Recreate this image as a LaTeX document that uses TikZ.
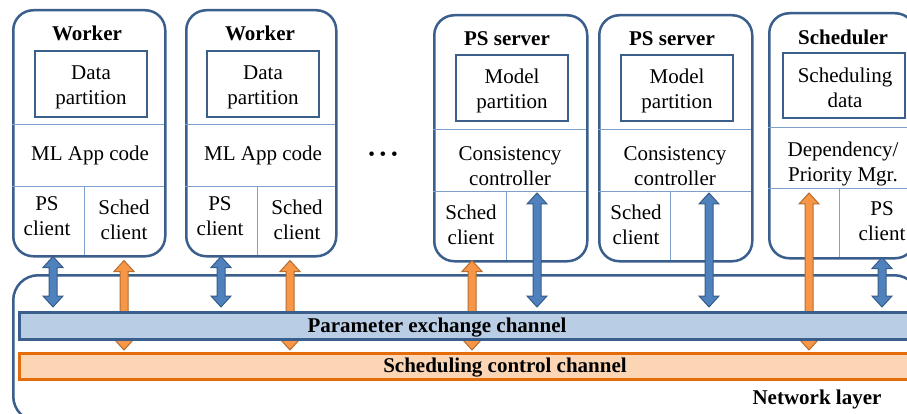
\documentclass[tikz,border=0pt]{standalone}
\usepackage{fontspec}
\setmainfont{Liberation Serif}
\usetikzlibrary{calc}
\definecolor{boxblue}{RGB}{58,95,140}
\definecolor{divblue}{RGB}{125,160,205}
\definecolor{chblue}{RGB}{185,205,229}
\definecolor{chorange}{RGB}{252,213,181}
\definecolor{orangeline}{RGB}{228,108,10}
\definecolor{arrblue}{RGB}{79,129,189}
\definecolor{arrblueline}{RGB}{56,93,138}
\definecolor{arrorange}{RGB}{247,150,70}
\definecolor{arrorangeline}{RGB}{182,109,49}
\pgfdeclarelayer{back}
\pgfdeclarelayer{mid}
\pgfsetlayers{back,mid,main}
% block double arrow: #1 style, #2 x coordinate, #3 top tip, #4 bottom tip
\newcommand\blockarr[4]{%
  \path[#1] let \p1=#2, \p2=#3, \p3=#4 in
   (\x1,\y2) -- (\x1+10pt,\y2-11pt) -- (\x1+4pt,\y2-11pt) -- (\x1+4pt,\y3+11pt)
   -- (\x1+10pt,\y3+11pt) -- (\x1,\y3) -- (\x1-10pt,\y3+11pt) -- (\x1-4pt,\y3+11pt)
   -- (\x1-4pt,\y2-11pt) -- (\x1-10pt,\y2-11pt) -- cycle;
}
\tikzset{
  comp/.style={draw=boxblue, line width=2.5pt, rounded corners=20pt, inner sep=0pt, fill=white},
  inbox/.style={draw=boxblue, line width=2.2pt, inner sep=0pt},
  divider/.style={draw=divblue, line width=1pt},
  txt/.style={align=center, inner sep=0pt, font=\fontsize{21}{25}\selectfont},
  ttl/.style={align=center, inner sep=0pt, font=\fontsize{21}{25}\selectfont\bfseries},
  pchan/.style={draw=boxblue, line width=2.5pt, fill=chblue, inner sep=0pt},
  schan/.style={draw=orangeline, line width=2.5pt, fill=chorange, inner sep=0pt},
  barrow/.style={fill=arrblue, draw=arrblueline, line width=1pt, line join=miter},
  oarrow/.style={fill=arrorange, draw=arrorangeline, line width=1pt, line join=miter},
}
\begin{document}
\begin{tikzpicture}[x=1pt,y=-1pt]
\clip (0,0) rectangle (907,414);

\begin{pgfonlayer}{back}
% network layer
\node[comp, rounded corners=25pt, minimum width=906pt, minimum height=146pt, anchor=north west] (net) at (12,274) {};
% component boxes
\node[comp, minimum width=152pt, minimum height=246pt, anchor=north west] (w1) at (12,9) {};
\node[comp, minimum width=150pt, minimum height=246pt, anchor=north west] (w2) at (185,9) {};
\node[comp, minimum width=153pt, minimum height=246pt, anchor=north west] (ps1) at (433,14) {};
\node[comp, minimum width=153pt, minimum height=246pt, anchor=north west] (ps2) at (598,14) {};
\node[comp, minimum width=146pt, minimum height=245pt, anchor=north west] (sch) at (768,12) {};
% dividers
\draw[divider] (12,125) -- (164,125) (12,187) -- (164,187) (84,187) -- (84,255);
\draw[divider] (185,125) -- (335,125) (185,187) -- (335,187) (257,187) -- (257,255);
\draw[divider] (433,130) -- (586,130) (433,192) -- (586,192) (506,192) -- (506,260);
\draw[divider] (598,130) -- (751,130) (598,192) -- (751,192) (670,192) -- (670,260);
\draw[divider] (768,128) -- (914,128) (768,189) -- (914,189) (839,189) -- (839,257);
\end{pgfonlayer}

% worker 1
\node[ttl] (w1t) at (87,33) {Worker};
\node[inbox, minimum width=112pt, minimum height=66pt] (w1d) at (91,84) {};
\node[txt] (w1dt) at (91,87) {Data\\partition};
\node[txt] (w1m) at (90,155) {ML App code};
\node[txt] (w1p) at (47,216) {PS\\client};
\node[txt] (w1s) at (124,220) {Sched\\client};
% worker 2
\node[ttl] (w2t) at (260,33) {Worker};
\node[inbox, minimum width=112pt, minimum height=66pt] (w2d) at (263,84) {};
\node[txt] (w2dt) at (263,87) {Data\\partition};
\node[txt] (w2m) at (263,155) {ML App code};
\node[txt] (w2p) at (220,216) {PS\\client};
\node[txt] (w2s) at (297,220) {Sched\\client};
% dots
\node[anchor=base, inner sep=0pt, font=\fontsize{19}{20}\selectfont] (dots) at (383,161) {• • •};
% PS server 1
\node[ttl] (p1t) at (507,39) {PS server};
\node[inbox, minimum width=112pt, minimum height=66pt] (p1d) at (512,88) {};
\node[txt] (p1dt) at (512,91) {Model\\partition};
\node[txt] (p1c) at (510,166) {Consistency\\controller};
\node[txt] (p1s) at (471,225) {Sched\\client};
% PS server 2
\node[ttl] (p2t) at (672,39) {PS server};
\node[inbox, minimum width=112pt, minimum height=66pt] (p2d) at (677,88) {};
\node[txt] (p2dt) at (677,91) {Model\\partition};
\node[txt] (p2c) at (675,166) {Consistency\\controller};
\node[txt] (p2s) at (636,225) {Sched\\client};
% scheduler
\node[ttl] (st) at (843,37) {Scheduler};
\node[inbox, minimum width=122pt, minimum height=65pt] (sd) at (844,85.5) {};
\node[txt] (sdt) at (845,88) {Scheduling\\data};
\node[txt] (sm) at (843,164) {Dependency/\\Priority Mgr.};
\node[txt] (sp) at (882,221) {PS\\client};

% channels
\node[pchan, minimum width=900pt, minimum height=27pt, anchor=north west] (pex) at (18,311) {};
\node[ttl] (pext) at (437,328) {Parameter exchange channel};
\node[schan, minimum width=900pt, minimum height=26pt, anchor=north west] (scc) at (18,352) {};
\node[ttl] (scct) at (505,368) {Scheduling control channel};
\node[ttl] (netl) at (817,399) {Network layer};

% orange arrows (behind the channels)
\begin{pgfonlayer}{mid}
\blockarr{oarrow}{(124,0)}{($(w1.south)+(0,3)$)}{($(scc.north)+(0,-2)$)}
\blockarr{oarrow}{(290,0)}{($(w2.south)+(0,3)$)}{($(scc.north)+(0,-2)$)}
\blockarr{oarrow}{(472,0)}{($(ps1.south)+(0,-2)$)}{($(scc.north)+(0,-2)$)}
\blockarr{oarrow}{(809,0)}{(0,193)}{($(scc.north)+(0,-2)$)}
\end{pgfonlayer}

% blue arrows
\blockarr{barrow}{(53,0)}{($(w1.south)+(0,-1)$)}{($(pex.north)+(0,-4)$)}
\blockarr{barrow}{(221,0)}{($(w2.south)+(0,-1)$)}{($(pex.north)+(0,-4)$)}
\blockarr{barrow}{(537,0)}{(0,193)}{($(pex.north)+(0,-4)$)}
\blockarr{barrow}{(709,0)}{(0,193)}{($(pex.north)+(0,-4)$)}
\blockarr{barrow}{(882,0)}{($(sch.south)+(0,-2)$)}{($(pex.north)+(0,-4)$)}
\end{tikzpicture}
\end{document}
